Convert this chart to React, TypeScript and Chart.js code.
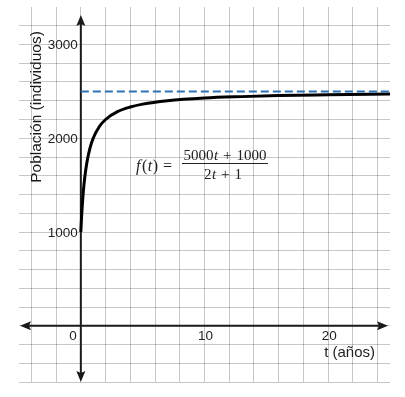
import React, { useEffect, useRef } from "react";
import { Chart, registerables } from "chart.js";

Chart.register(...registerables);

// Curve f(t) = (5000t + 1000) / (2t + 1)
const tValues = [0, 0.05, 0.1, 0.2, 0.3, 0.5, 0.75, 1, 1.5, 2, 3, 4, 5, 7, 10, 13, 16, 20, 25];
const population = [1000, 1136, 1250, 1429, 1563, 1750, 1900, 2000, 2125, 2200, 2286, 2333, 2364, 2400, 2429, 2444, 2455, 2463, 2471];

// Asymptote
const asymptoteT = [0, 25];
const asymptoteValue = [2500, 2500];

// Axes ranges and grid
const xMin = -5;
const xMax = 25;
const yMin = -600;
const yMax = 3400;
const xGridTicks = [-4, -2, 0, 2, 4, 6, 8, 10, 12, 14, 16, 18, 20, 22, 24];
const yGridTicks = [-600, -400, -200, 0, 200, 400, 600, 800, 1000, 1200, 1400, 1600, 1800, 2000, 2200, 2400, 2600, 2800, 3000, 3200];
const xLabelTicks = [10, 20];
const yLabelTicks = [1000, 2000, 3000];

const xTitle = "t (años)";
const yTitle = "Población (individuos)";

const SANS = "'Liberation Sans', Arial, sans-serif";
const SERIF = "'Liberation Serif', 'DejaVu Serif', serif";

type Seg = [string, boolean, number?];

function drawSegs(ctx: CanvasRenderingContext2D, segs: Seg[], cx: number, y: number, size: number) {
  const widths = segs.map(([t, it]) => {
    ctx.font = `${it ? "italic " : ""}${size}px ${SERIF}`;
    return ctx.measureText(t).width;
  });
  const gaps = segs.map((s) => s[2] ?? 0);
  const total = widths.reduce((a, b) => a + b, 0) + gaps.reduce((a, b) => a + b, 0);
  let x = cx - total / 2;
  ctx.textAlign = "left";
  segs.forEach(([t, it], i) => {
    x += gaps[i];
    ctx.font = `${it ? "italic " : ""}${size}px ${SERIF}`;
    ctx.fillText(t, x, y);
    x += widths[i];
  });
}

function arrowHead(ctx: CanvasRenderingContext2D, x: number, y: number, dir: "up" | "down" | "left" | "right") {
  const L = 11;
  const W = 4.5;
  ctx.beginPath();
  if (dir === "up") {
    ctx.moveTo(x, y);
    ctx.lineTo(x - W, y + L);
    ctx.lineTo(x, y + L - 2);
    ctx.lineTo(x + W, y + L);
  } else if (dir === "down") {
    ctx.moveTo(x, y);
    ctx.lineTo(x - W, y - L);
    ctx.lineTo(x, y - L + 2);
    ctx.lineTo(x + W, y - L);
  } else if (dir === "left") {
    ctx.moveTo(x, y);
    ctx.lineTo(x + L, y - W);
    ctx.lineTo(x + L - 2, y);
    ctx.lineTo(x + L, y + W);
  } else {
    ctx.moveTo(x, y);
    ctx.lineTo(x - L, y - W);
    ctx.lineTo(x - L + 2, y);
    ctx.lineTo(x - L, y + W);
  }
  ctx.closePath();
  ctx.fill();
}

const axesPlugin = {
  id: "axesPlugin",
  beforeDatasetsDraw(chart: any) {
    const { ctx, scales, chartArea } = chart;
    const xs = scales.x;
    const ys = scales.y;
    const x0 = xs.getPixelForValue(0);
    const y0 = ys.getPixelForValue(0);
    ctx.save();
    ctx.strokeStyle = "#1a1a1a";
    ctx.fillStyle = "#1a1a1a";
    ctx.lineWidth = 2;
    const left = chartArea.left + 1;
    const right = chartArea.right - 2;
    const top = chartArea.top + 8;
    const bottom = chartArea.bottom;
    ctx.beginPath();
    ctx.moveTo(left + 4, y0);
    ctx.lineTo(right - 4, y0);
    ctx.moveTo(x0, top + 4);
    ctx.lineTo(x0, bottom - 4);
    ctx.stroke();
    arrowHead(ctx, left, y0, "left");
    arrowHead(ctx, right, y0, "right");
    arrowHead(ctx, x0, top, "up");
    arrowHead(ctx, x0, bottom, "down");
    ctx.restore();
  },
  afterDraw(chart: any) {
    const { ctx, scales } = chart;
    const xs = scales.x;
    const ys = scales.y;
    const x0 = xs.getPixelForValue(0);
    const y0 = ys.getPixelForValue(0);
    ctx.save();
    ctx.fillStyle = "#222";
    ctx.font = `13.5px ${SANS}`;
    ctx.textBaseline = "middle";
    ctx.textAlign = "right";
    for (const v of yLabelTicks) {
      ctx.fillText(String(v), x0 - 3, ys.getPixelForValue(v) + 1);
    }
    ctx.fillText("0", x0 - 4, y0 + 11);
    ctx.textAlign = "center";
    for (const v of xLabelTicks) {
      ctx.fillText(String(v), xs.getPixelForValue(v) + 1, y0 + 11);
    }
    ctx.font = `15px ${SANS}`;
    ctx.textAlign = "left";
    ctx.fillText(xTitle, xs.getPixelForValue(20) - 4, y0 + 27);

    ctx.save();
    ctx.translate(37, 107);
    ctx.rotate(-Math.PI / 2);
    ctx.textAlign = "center";
    ctx.font = `15.5px ${SANS}`;
    ctx.fillStyle = "#1a1a1a";
    ctx.fillText(yTitle, 0, 0);
    ctx.restore();

    // Formula
    ctx.fillStyle = "#222";
    ctx.textBaseline = "middle";
    drawSegs(ctx, [["f", true], ["(", false, 1.5], ["t", true, 0.5], [")", false, 0.5], ["=", false, 5]], 154, 167, 16);
    drawSegs(ctx, [["5000", false], ["t", true, 0.5], ["+", false, 5], ["1000", false, 5]], 225, 156, 15);
    drawSegs(ctx, [["2", false], ["t", true, 0.5], ["+", false, 5], ["1", false, 5]], 223, 175, 15);
    ctx.strokeStyle = "#222";
    ctx.lineWidth = 1;
    ctx.beginPath();
    ctx.moveTo(182, 163.5);
    ctx.lineTo(268, 163.5);
    ctx.stroke();
    ctx.restore();
  },
};

export default function App() {
  const canvasRef = useRef<HTMLCanvasElement | null>(null);

  useEffect(() => {
    if (!canvasRef.current) return;
    const chart = new Chart(canvasRef.current, {
      type: "scatter",
      data: {
        datasets: [
          {
            data: asymptoteT.map((t, i) => ({ x: t, y: asymptoteValue[i] })),
            showLine: true,
            borderColor: "#2d70b3",
            borderWidth: 2,
            borderDash: [8, 4],
            pointRadius: 0,
          },
          {
            data: tValues.map((t, i) => ({ x: t, y: population[i] })),
            showLine: true,
            borderColor: "#000",
            borderWidth: 3,
            pointRadius: 0,
            cubicInterpolationMode: "monotone",
          },
        ],
      },
      options: {
        responsive: false,
        animation: false,
        layout: { padding: { left: 19, right: 15, top: 7, bottom: 15 } },
        plugins: { legend: { display: false }, tooltip: { enabled: false } },
        scales: {
          x: {
            type: "linear",
            min: xMin,
            max: xMax,
            afterBuildTicks: (scale: any) => {
              scale.ticks = xGridTicks.map((v) => ({ value: v }));
            },
            ticks: { display: false },
            grid: { color: "rgba(0,0,0,0.22)", lineWidth: 1, drawTicks: false },
            border: { display: false },
          },
          y: {
            type: "linear",
            min: yMin,
            max: yMax,
            afterBuildTicks: (scale: any) => {
              scale.ticks = yGridTicks.map((v) => ({ value: v }));
            },
            ticks: { display: false },
            grid: { color: "rgba(0,0,0,0.22)", lineWidth: 1, drawTicks: false },
            border: { display: false },
          },
        },
      },
      plugins: [axesPlugin],
    } as any);
    return () => chart.destroy();
  }, []);

  return (
    <div style={{ position: "absolute", left: 0, top: 0, width: 405, height: 397, background: "#fff" }}>
      <canvas ref={canvasRef} width={405} height={397} />
    </div>
  );
}
